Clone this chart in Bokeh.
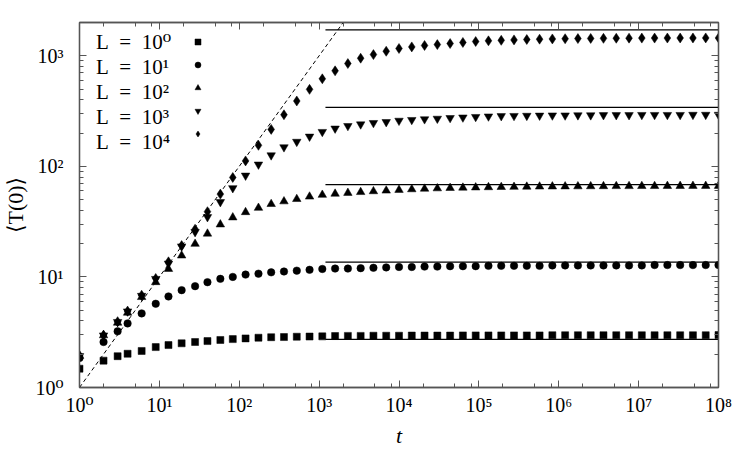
from bokeh.plotting import figure
from bokeh.models import (Range1d, LogAxis, FixedTicker, CustomJSTickFormatter,
                          Legend, LegendItem, ColumnDataSource)
from bokeh.embed import file_html
from bokeh.resources import INLINE

# ---------------- data ----------------
t = [1, 2, 3, 4, 6, 9, 13, 19, 28, 40, 58, 83, 120, 174, 251, 363, 525, 759,
     1096, 1585, 2291, 3311, 4786, 6918, 10000, 14454, 20893, 30200, 43652,
     63096, 91201, 131826, 190546, 275423, 398107, 575440, 831764, 1202264,
     1737801, 2511886, 3630781, 5248075, 7585776, 10964782, 15848932,
     22908677, 33113112, 47863009, 69183097, 100000000]

T_L1 = [1.48, 1.75, 1.92, 2.02, 2.14, 2.32, 2.42, 2.51, 2.58, 2.63, 2.69, 2.74,
        2.78, 2.82, 2.85, 2.86, 2.88, 2.89, 2.90, 2.92, 2.93, 2.93, 2.94, 2.94,
        2.94, 2.95, 2.95, 2.95, 2.95, 2.96, 2.96, 2.96, 2.96, 2.96, 2.96, 2.96,
        2.97, 2.97, 2.97, 2.97, 2.97, 2.97, 2.97, 2.97, 2.97, 2.97, 2.97, 2.97,
        2.97, 2.98]

T_L10 = [1.85, 2.58, 3.22, 3.80, 4.68, 5.72, 6.66, 7.59, 8.25, 8.96, 9.61, 10.0,
         10.5, 10.7, 11.0, 11.2, 11.4, 11.6, 11.8, 11.9, 11.9, 12.0, 12.1, 12.2,
         12.3, 12.3, 12.4, 12.4, 12.5, 12.5, 12.5, 12.6, 12.6, 12.6, 12.6, 12.6,
         12.7, 12.7, 12.7, 12.7, 12.7, 12.7, 12.7, 12.7, 12.8, 12.8, 12.8, 12.8,
         12.8, 12.8]

T_L100 = [1.93, 2.96, 3.85, 4.74, 6.57, 8.96, 11.8, 15.6, 19.9, 24.6, 29.8, 34.5,
          38.5, 42.1, 45.6, 48.2, 50.6, 53.2, 55.2, 56.5, 57.5, 58.5, 59.5, 60.3,
          61.2, 62.0, 62.7, 63.2, 63.7, 64.1, 64.4, 64.7, 65.0, 65.2, 65.4, 65.6,
          65.7, 65.8, 65.9, 66.0, 66.1, 66.2, 66.2, 66.3, 66.3, 66.4, 66.4, 66.5,
          66.5, 66.5]

T_L1000 = [1.93, 2.96, 3.92, 4.88, 6.75, 9.6, 13.2, 18.9, 25.5, 34.8, 47.6, 63.6,
           82.6, 104, 126, 149, 167, 186, 205, 220, 232, 240, 247, 252,
           259, 263, 267, 270, 274, 277, 280, 283, 285, 286, 287, 288,
           289, 289, 290, 290, 291, 291, 291, 292, 292, 292, 292, 293,
           293, 293]

T_L10000 = [1.95, 2.98, 3.94, 4.91, 6.84, 9.68, 13.7, 19.2, 27.0, 38.9, 56.1, 79.3,
            112, 155, 216, 293, 390, 497, 619, 731, 851, 951, 1025, 1099,
            1164, 1203, 1239, 1262, 1291, 1320, 1346, 1365, 1380, 1392, 1403, 1413,
            1420, 1426, 1431, 1435, 1438, 1441, 1443, 1445, 1446, 1447, 1448, 1449,
            1450, 1450]

# asymptotic plateaus (solid horizontal lines)
plateau_T = [2.72, 13.6, 68.3, 341, 1713]
plateau_t_start = [1200, 1200, 1200, 1200, 1200]
plateau_t_end = [1e8, 1e8, 1e8, 1e8, 1e8]

# short-time guide <T(0)> = t (dashed line)
guide_t = [1, 2000]
guide_T = [1, 2000]

legend_labels = ["L\u2002=\u200210\u2070", "L\u2002=\u200210\u00b9",
                 "L\u2002=\u200210\u00b2", "L\u2002=\u200210\u00b3",
                 "L\u2002=\u200210\u2074"]

x_major = [1e0, 1e1, 1e2, 1e3, 1e4, 1e5, 1e6, 1e7, 1e8]
x_minor = [m * d for d in [1e0, 1e1, 1e2, 1e3, 1e4, 1e5, 1e6, 1e7] for m in (2, 5, 8)]
y_major = [1e0, 1e1, 1e2, 1e3]
y_minor = [m * d for d in [1e0, 1e1, 1e2, 1e3] for m in range(2, 10) if m * d <= 2000]

FONT = "Liberation Serif, DejaVu Serif"
AXIS_COLOR = "#555555"

p = figure(width=750, height=450, x_axis_type="log", y_axis_type="log",
           x_range=Range1d(1, 1e8), y_range=Range1d(1, 2000),
           output_backend="svg", toolbar_location=None,
           min_border_left=78, min_border_right=32, min_border_top=22,
           min_border_bottom=62)
p.grid.visible = False
p.outline_line_color = AXIS_COLOR
p.outline_line_width = 1.3
p.background_fill_color = "white"
p.border_fill_color = "white"

sup_code = """
const sup = ['\u2070','\u00b9','\u00b2','\u00b3','\u2074','\u2075','\u2076','\u2077','\u2078','\u2079'];
const e = Math.round(Math.log10(tick));
return '10' + String(e).split('').map(c => sup[parseInt(c)]).join('');
"""

def style_axis(ax, major, minor, show_labels):
    ax.ticker = FixedTicker(ticks=major, minor_ticks=minor)
    ax.major_tick_in = 7
    ax.major_tick_out = 0
    ax.minor_tick_in = 4
    ax.minor_tick_out = 0
    ax.axis_line_color = AXIS_COLOR
    ax.axis_line_width = 1.3
    ax.major_tick_line_color = AXIS_COLOR
    ax.minor_tick_line_color = AXIS_COLOR
    ax.major_tick_line_width = 1
    ax.minor_tick_line_width = 1
    if show_labels:
        ax.formatter = CustomJSTickFormatter(code=sup_code)
        ax.major_label_text_font = FONT
        ax.major_label_text_font_size = "20px"
        ax.major_label_text_color = "black"
    else:
        ax.major_label_text_font_size = "2px"
        ax.major_label_text_alpha = 0
        ax.major_label_standoff = 0

style_axis(p.xaxis[0], x_major, x_minor, True)
style_axis(p.yaxis[0], y_major, y_minor, True)
p.xaxis[0].major_label_standoff = 6
p.yaxis[0].major_label_standoff = 16

p.xaxis[0].axis_label = "t"
p.xaxis[0].axis_label_text_font = FONT
p.xaxis[0].axis_label_text_font_style = "italic"
p.xaxis[0].axis_label_text_font_size = "22px"
p.xaxis[0].axis_label_text_color = "black"
p.xaxis[0].axis_label_standoff = 4

p.yaxis[0].axis_label = "\u27e8T(0)\u27e9"
p.yaxis[0].axis_label_text_font = FONT
p.yaxis[0].axis_label_text_font_style = "normal"
p.yaxis[0].axis_label_text_font_size = "22px"
p.yaxis[0].axis_label_text_color = "black"
p.yaxis[0].axis_label_standoff = 4

top = LogAxis()
style_axis(top, x_major, x_minor, False)
p.add_layout(top, "above")
right = LogAxis()
style_axis(right, y_major, y_minor, False)
p.add_layout(right, "right")

# lines
p.segment(x0=plateau_t_start, x1=plateau_t_end, y0=plateau_T, y1=plateau_T,
          line_color="black", line_width=1.3)
p.line(guide_t, guide_T, line_color="black", line_width=1, line_dash="4 3")

# series
series = [(T_L1, "square", 7), (T_L10, "circle", 7.5), (T_L100, "triangle", 8.5),
          (T_L1000, "inverted_triangle", 8.5), (T_L10000, "diamond", 10)]
renderers = []
for vals, marker, size in series:
    src = ColumnDataSource(dict(t=t, T=vals))
    r = p.scatter("t", "T", source=src, marker=marker, size=size,
                  fill_color="black", line_color="black", line_width=0.5)
    renderers.append(r)

# legend: text column (with invisible glyphs) + marker column (with blank labels)
dummy = p.scatter(x=[1], y=[1], fill_alpha=0, line_alpha=0, size=1)
legA = Legend(items=[LegendItem(label=lab, renderers=[dummy]) for lab in legend_labels],
              location="top_left", margin=0, padding=8, glyph_width=9, glyph_height=15,
              label_standoff=0, label_height=23, spacing=0,
              label_text_font=FONT, label_text_font_size="21px",
              label_text_color="black",
              background_fill_alpha=0, border_line_alpha=0)
legB = Legend(items=[LegendItem(label=" ", renderers=[r]) for r in renderers],
              location="top_left", margin=0, padding=8, glyph_width=221, glyph_height=15,
              label_standoff=0, label_height=23, spacing=0,
              label_text_font=FONT, label_text_font_size="21px",
              background_fill_alpha=0, border_line_alpha=0)
p.add_layout(legA)
p.add_layout(legB)

open("out.html", "w", encoding="utf-8").write(file_html(p, INLINE))
